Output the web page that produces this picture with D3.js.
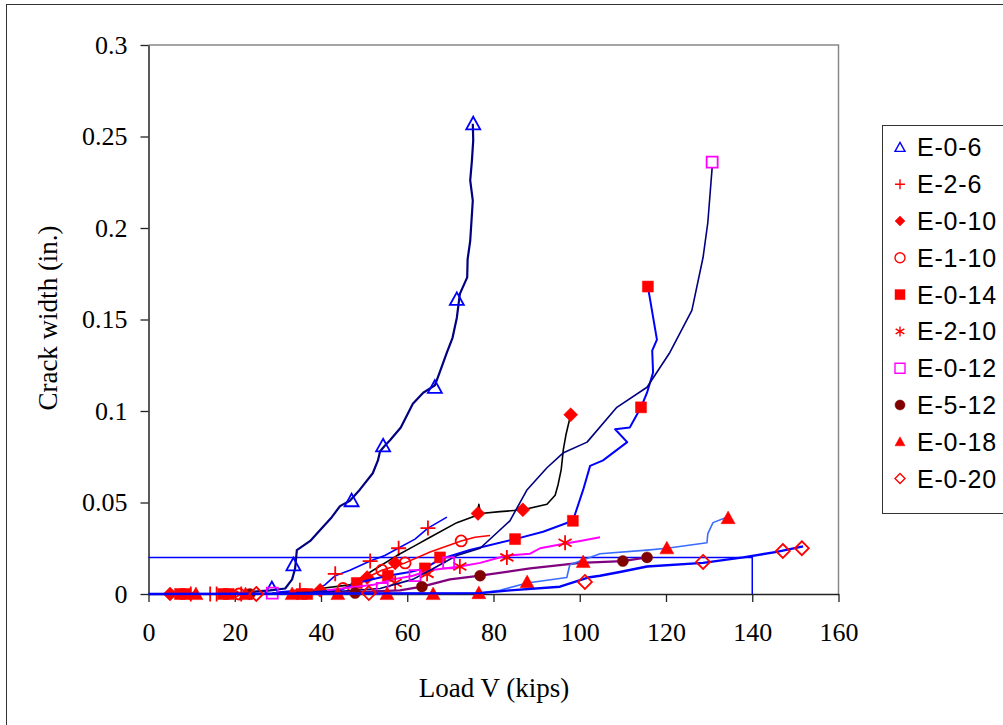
<!DOCTYPE html>
<html>
<head>
<meta charset="utf-8">
<script src="https://cdn.jsdelivr.net/npm/d3@7"></script>
<style>
  body { margin: 0; background: #fff; }
  svg { display: block; }
  .serif text, text.serif { font-family: "Liberation Serif", "Times New Roman", serif; }
</style>
</head>
<body>
<div id="container"></div>
<script>
// names of the specimens, in legend order
const seriesNames = ["E-0-6", "E-2-6", "E-0-10", "E-1-10", "E-0-14", "E-2-10", "E-0-12", "E-5-12", "E-0-18", "E-0-20"];

// [load (kips), crack width (in.)]
const e06Line = [[18,0],[28.2,0.002],[31.7,0.003],[33.3,0.008],[34.0,0.014],[34.4,0.024],[37.5,0.029],[39.8,0.035],[42.5,0.042],[44.4,0.048],[46.7,0.051],[49.0,0.057],[52.0,0.066],[53.2,0.073],[53.7,0.078],[54.8,0.081],[56.0,0.084],[58.5,0.091],[61.3,0.104],[63.7,0.110],[66.4,0.114],[67.5,0.121],[69.2,0.132],[70.5,0.140],[71.5,0.151],[72.2,0.164],[73.9,0.173],[74.0,0.183],[74.6,0.193],[75.2,0.215],[74.6,0.226],[75.0,0.237],[75.3,0.248],[75.2,0.257]];
const e06Marks = [[28.6,0.003],[33.6,0.016],[47.1,0.051],[54.4,0.081],[66.4,0.113],[71.5,0.161],[75.3,0.257]];

const e26Line = [[30,0.001],[35.1,0.002],[38.6,0.002],[40.9,0.005],[43.3,0.010],[46.7,0.013],[51.4,0.018],[54.8,0.021],[57.9,0.025],[61.8,0.030],[64.8,0.036],[69.2,0.042]];
const e26Marks = [[14.3,0],[15.8,0],[35.1,0.002],[43.3,0.011],[51.4,0.018],[58.0,0.025],[64.8,0.036]];

const e010Line = [[39.8,0.003],[46.7,0.005],[52.1,0.013],[57.6,0.021],[61.5,0.026],[65.3,0.031],[71.5,0.039],[76.2,0.043],[76.6,0.049],[77.0,0.044],[81.5,0.045],[86.8,0.046],[92.4,0.049],[94.3,0.054],[95.0,0.060],[95.7,0.068],[96.2,0.079],[96.8,0.087],[97.9,0.098]];
const e010Marks = [[5.0,0],[39.8,0.002],[50.7,0.009],[57.2,0.017],[76.4,0.044],[86.8,0.046],[97.9,0.098]];

const e110Line = [[42.1,0.002],[45.1,0.003],[49.0,0.007],[54.1,0.013],[59.5,0.017],[65.3,0.023],[72.5,0.029],[75.7,0.031],[79.2,0.032]];
const e110Marks = [[21,0],[45.1,0.003],[54.1,0.013],[59.5,0.017],[72.5,0.029]];

const e014Line = [[35.1,0.0005],[44.4,0.002],[48.3,0.006],[53.7,0.009],[55.5,0.010],[60.6,0.012],[64.1,0.014],[67.6,0.019],[74.5,0.024],[85.0,0.030],[91.5,0.034],[98.4,0.040],[100.8,0.057],[102.4,0.070],[105.4,0.073],[111.0,0.083],[108.2,0.090],[111.6,0.091],[114.2,0.102],[115.6,0.110],[117.0,0.121],[116.8,0.133],[117.9,0.139],[115.8,0.168]];
const e014Marks = [[7.3,0],[8.6,0],[17.3,0],[18.6,0],[35.5,0],[36.8,0],[48.3,0.006],[55.5,0.010],[64.1,0.014],[67.6,0.020],[85.0,0.030],[98.4,0.040],[114.2,0.102],[115.8,0.168]];

const e210Line = [[41.4,0.002],[52.1,0.005],[56.7,0.008],[61.3,0.010],[65.3,0.013],[72.2,0.015],[76.9,0.017],[83.1,0.021],[88.5,0.022],[90.8,0.025],[95.4,0.027],[100.1,0.029],[104.7,0.031]];
const e210Marks = [[9.8,0],[21.5,0],[57.2,0.006],[64.6,0.011],[72.2,0.015],[83.1,0.020],[96.6,0.028]];

const e012Line = [[28.7,0.0005],[42.1,0.001],[53.7,0.003],[61.3,0.008],[65.3,0.013],[71.5,0.021],[76.9,0.025],[83.8,0.040],[87.8,0.057],[92.4,0.069],[96.1,0.077],[101.7,0.083],[108.6,0.102],[115.6,0.113],[120.9,0.132],[126.0,0.155],[128.6,0.184],[129.7,0.203],[130.7,0.233]];
const e012Marks = [[28.7,0.0005],[54.2,0.003],[61.8,0.010],[69.6,0.017],[130.7,0.236]];

const e512Line = [[42.1,0.0005],[47.9,0.001],[58.3,0.002],[63.4,0.004],[69.9,0.008],[76.9,0.010],[88.5,0.014],[100.1,0.017],[110.0,0.018],[115.6,0.020]];
const e512Marks = [[23.5,0],[47.9,0.0005],[63.4,0.004],[76.9,0.010],[110.0,0.018],[115.6,0.020]];

const e018Line = [[15,0],[76.6,0.0005],[81.5,0.002],[87.8,0.006],[97.0,0.009],[97.7,0.016],[104.7,0.022],[115.6,0.024],[120.2,0.025],[129.5,0.028],[129.7,0.033],[130.9,0.039],[134.1,0.042]];
const e018Marks = [[11,0],[22.5,0],[33.3,0],[43.9,0],[55.3,0],[66.0,0],[76.6,0.0005],[87.8,0.0065],[100.8,0.0175],[120.2,0.025],[134.4,0.0415]];

const e020Line = [[0,0],[76.9,0.0005],[83.8,0.002],[95.4,0.004],[101.9,0.009],[104.7,0.010],[109.3,0.012],[115.6,0.015],[128.6,0.017],[137.9,0.020],[145.7,0.023],[151.8,0.026]];
const e020Marks = [[25,0],[51.1,0.0005],[101.2,0.0066],[128.6,0.0175],[147.1,0.0235],[151.5,0.025]];

// limit box drawn on the chart
const guideLine = [[0,0.02],[140,0.02],[140,0]];

const xTicks = [0,20,40,60,80,100,120,140,160];
const yTicks = [0,0.05,0.1,0.15,0.2,0.25,0.3];

const lines = [e06Line, e26Line, e010Line, e110Line, e014Line, e210Line, e012Line, e512Line, e018Line, e020Line];
const marks = [e06Marks, e26Marks, e010Marks, e110Marks, e014Marks, e210Marks, e012Marks, e512Marks, e018Marks, e020Marks];

// styling per series
const lineColors = ["#000080","#0000ff","#000000","#ff0000","#0000ff","#ff00ff","#000080","#800080","#3a6cff","#0000ff"];
const lineWidths = [2.2, 1.6, 1.6, 1.6, 2, 2, 1.6, 2.2, 1.6, 2.4];
const markShapes = ["triangle","plus","diamond","circle","square","star","square","circle","triangle","diamond"];
const markColors = ["#0000ff","#ff0000","#ff0000","#ff0000","#ff0000","#ff0000","#ff00ff","#800000","#ff0000","#ff0000"];
const markFilled = [false, false, true, false, true, false, false, true, true, false];

const series = seriesNames.map((name, i) => ({
	name, line: lines[i], marks: marks[i],
	lineColor: lineColors[i], lineWidth: lineWidths[i],
	shape: markShapes[i], color: markColors[i], filled: markFilled[i]
}));

const width = 1003, height = 725;
const plot = { left: 148.5, right: 838.5, top: 45, bottom: 594 };

const svg = d3.select("#container").append("svg")
	.attr("width", width).attr("height", height);

// outer chart frame
svg.append("rect")
	.attr("x", 6.5).attr("y", 4.5).attr("width", 1100).attr("height", 800)
	.attr("fill", "#fff").attr("stroke", "#333").attr("stroke-width", 1);

const x = d3.scaleLinear().domain([0,160]).range([plot.left, plot.right]);
const y = d3.scaleLinear().domain([0,0.3]).range([plot.bottom, plot.top]);

// plot area border (gray on top and right)
svg.append("path")
	.attr("d", `M${plot.left},${plot.top}H${plot.right}V${plot.bottom}`)
	.attr("fill", "none").attr("stroke", "#888").attr("stroke-width", 1.5);

const serif = "Liberation Serif, Times New Roman, serif";

const xAxis = svg.append("g")
	.attr("transform", `translate(0,${plot.bottom})`)
	.call(d3.axisBottom(x).tickValues(xTicks).tickSize(8).tickSizeOuter(0).tickPadding(14));
const yAxis = svg.append("g")
	.attr("transform", `translate(${plot.left},0)`)
	.call(d3.axisLeft(y).tickValues(yTicks).tickSize(8).tickSizeOuter(0).tickPadding(13).tickFormat(d => String(d)));

[xAxis, yAxis].forEach(g => {
	g.attr("font-family", serif).attr("font-size", 26).attr("class", "serif");
	g.select(".domain").attr("stroke", "#222").attr("stroke-width", 1.5);
	g.selectAll(".tick line").attr("stroke", "#222").attr("stroke-width", 1.3);
	g.selectAll(".tick text").attr("fill", "#000");
});
xAxis.selectAll(".tick text").attr("dy", "0.95em");

svg.append("text")
	.attr("class", "serif")
	.attr("x", 494).attr("y", 697).attr("text-anchor", "middle")
	.attr("font-size", 27)
	.text("Load V (kips)");
svg.append("text")
	.attr("class", "serif")
	.attr("transform", "translate(57,318) rotate(-90)").attr("text-anchor", "middle")
	.attr("font-size", 27)
	.text("Crack width (in.)");

// marker shapes, centred on 0,0
function shapePath(shape, s) {
	const h = s / 2;
	switch (shape) {
		case "triangle": return `M0,${-h}L${h},${h * 0.8}L${-h},${h * 0.8}Z`;
		case "square": return `M${-h},${-h}H${h}V${h}H${-h}Z`;
		case "diamond": return `M0,${-h}L${h},0L0,${h}L${-h},0Z`;
		case "circle": return `M${-h},0A${h},${h} 0 1,0 ${h},0A${h},${h} 0 1,0 ${-h},0Z`;
		case "plus": return `M${-h},0H${h}M0,${-h}V${h}`;
		case "star": {
			const u = h * 0.87, t = h * 0.5;
			return `M0,${-h}V${h}M${-u},${-t}L${u},${t}M${-u},${t}L${u},${-t}`;
		}
	}
}
const shapeSize = { triangle: 14, square: 11, diamond: 14, circle: 11, plus: 15, star: 15 };

const line = d3.line().x(d => x(d[0])).y(d => y(d[1]));

const plotG = svg.append("g");

plotG.append("path")
	.attr("d", line(guideLine))
	.attr("fill", "none").attr("stroke", "#0000ff").attr("stroke-width", 1.5);

function styleMarker(sel, s, w) {
	sel.attr("fill", s.filled ? s.color : "none")
		.attr("stroke", s.color)
		.attr("stroke-width", s.filled ? 0.5 : w);
}

series.forEach(s => {
	const g = plotG.append("g");
	g.append("path")
		.attr("d", line(s.line))
		.attr("fill", "none")
		.attr("stroke", s.lineColor)
		.attr("stroke-width", s.lineWidth)
		.attr("stroke-linejoin", "round");
	g.selectAll("path.mark")
		.data(s.marks)
		.enter().append("path")
		.attr("class", "mark")
		.attr("transform", d => `translate(${x(d[0])},${y(d[1])})`)
		.attr("d", shapePath(s.shape, shapeSize[s.shape]))
		.call(styleMarker, s, 1.8);
});

// legend
const legend = svg.append("g");
legend.append("rect")
	.attr("x", 882.5).attr("y", 125.5).attr("width", 200).attr("height", 388)
	.attr("fill", "#fff").attr("stroke", "#333").attr("stroke-width", 1);

const legendRow = d3.scaleBand().domain(seriesNames).range([129, 497]);

const items = legend.selectAll("g.item")
	.data(series)
	.enter().append("g")
	.attr("class", "item")
	.attr("transform", d => `translate(900,${legendRow(d.name) + legendRow.bandwidth() / 2})`);

items.append("path")
	.attr("d", d => shapePath(d.shape, 10))
	.each(function(d) { d3.select(this).call(styleMarker, d, 1.4); });

items.append("text")
	.attr("x", 17).attr("dy", "0.36em")
	.attr("font-family", "Liberation Sans, Arial, sans-serif")
	.attr("font-size", 25)
	.style("letter-spacing", "0.8px")
	.text(d => d.name);
</script>
</body>
</html>
